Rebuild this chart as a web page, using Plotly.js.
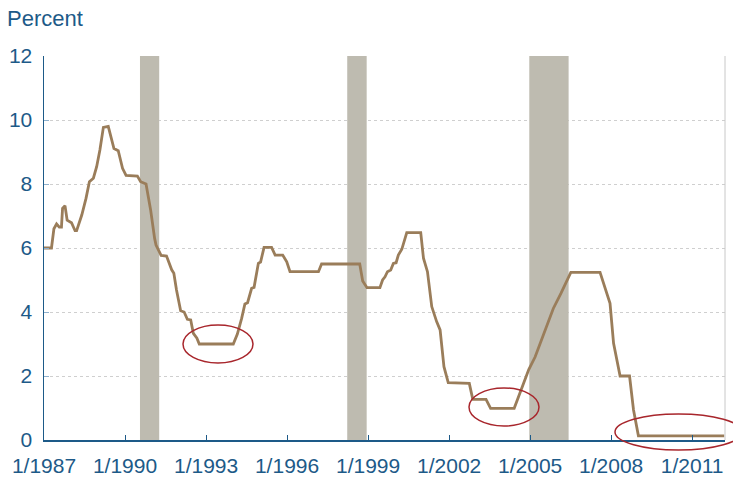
<!DOCTYPE html>
<html>
<head>
<meta charset="utf-8">
<script src="https://cdn.plot.ly/plotly-3.0.1.min.js"></script>
<style>html,body{margin:0;padding:0;background:#fff;}#chart{width:733px;height:478px;}</style>
</head>
<body>
<div id="chart"></div>
<script>
// Federal funds rate (percent), vertices
var rateDates = [
  "1987-01-01","1987-04-12","1987-05-15","1987-06-20","1987-07-27","1987-08-25","1987-09-09","1987-10-12","1987-11-10",
  "1988-01-08","1988-02-25","1988-03-17","1988-05-26","1988-07-22","1988-09-06","1988-10-30","1988-12-13",
  "1989-01-26","1989-03-14","1989-05-19","1989-08-04","1989-10-01","1989-11-28",
  "1990-01-15","1990-06-17","1990-07-31","1990-10-12","1990-12-13",
  "1991-02-05","1991-02-24","1991-05-04","1991-07-16","1991-09-24","1991-10-23","1991-11-28",
  "1992-01-23","1992-03-10","1992-04-23","1992-06-07","1992-07-13","1992-08-30","1992-10-01",
  "1994-01-04","1994-02-28","1994-04-27","1994-06-10","1994-07-16","1994-09-09","1994-10-12","1994-12-09",
  "1995-01-08","1995-02-24","1995-06-06","1995-07-24","1995-11-03","1995-12-28",
  "1996-02-10","1997-03-01","1997-04-12","1998-09-10","1998-10-20","1998-12-17",
  "1999-06-10","1999-07-16","1999-08-18","1999-09-20","1999-11-03","1999-12-09",
  "2000-01-15","2000-02-14","2000-04-01","2000-06-07","2000-12-13",
  "2001-01-19","2001-03-14","2001-05-11","2001-07-16","2001-09-01","2001-10-23","2001-12-20",
  "2002-10-01","2002-11-17","2003-05-15","2003-07-16","2004-05-30","2004-09-09","2004-12-13",
  "2005-03-10","2005-05-15","2005-08-14","2005-11-10","2006-02-21","2006-05-11","2006-07-05",
  "2007-08-04","2007-10-23","2007-12-17","2008-02-03","2008-05-01","2008-09-06","2008-10-30",
  "2009-01-04","2012-03-10"
];
var rateValues = [
  6.0,6.0,6.6,6.75,6.65,6.65,7.24,7.32,6.87,
  6.79,6.54,6.54,7.03,7.55,8.07,8.18,8.54,
  9.06,9.77,9.8,9.11,9.04,8.49,
  8.27,8.25,8.07,8.0,7.19,
  6.3,6.09,5.77,5.75,5.32,5.21,4.69,
  4.04,4.0,3.77,3.75,3.33,3.18,3.0,
  3.0,3.31,3.8,4.25,4.29,4.74,4.77,5.52,
  5.56,6.02,6.02,5.78,5.78,5.57,
  5.26,5.26,5.5,5.5,4.97,4.76,
  4.76,5.0,5.1,5.26,5.31,5.52,
  5.54,5.78,5.96,6.48,6.48,
  5.68,5.26,4.17,3.7,3.44,2.29,1.79,
  1.77,1.27,1.27,0.99,0.99,1.65,2.2,
  2.6,2.99,3.54,4.11,4.58,5.0,5.24,
  5.24,4.64,4.27,3.02,2.0,2.0,0.94,
  0.13,0.13
];

// Shaded periods as drawn in the reference
var shadeStart = ["1990-07-22","1998-03-25","2004-12-20"];
var shadeEnd   = ["1991-04-08","1998-12-13","2006-06-05"];
var shadeTop = 12;

// Axis ticks
var tickDates  = ["1987-01-01","1990-01-01","1993-01-01","1996-01-01","1999-01-01","2002-01-01","2005-01-01","2008-01-01","2011-01-01"];
var tickLabels = ["1/1987","1/1990","1/1993","1/1996","1/1999","1/2002","1/2005","1/2008","1/2011"];
var yTicks = [0,2,4,6,8,10,12];

var BLUE = "#1d5a88";
var FONT = "Liberation Sans, Arial, sans-serif";

var shapes = [];
for (var i = 0; i < shadeStart.length; i++) {
  shapes.push({type:"rect", xref:"x", yref:"y", x0:shadeStart[i], x1:shadeEnd[i], y0:0, y1:shadeTop,
    fillcolor:"#bebbb0", line:{width:0}, layer:"between"});
}
// right frame line
shapes.push({type:"line", xref:"paper", yref:"paper", x0:1, x1:1, y0:0, y1:1, line:{color:"#c8c8c8", width:1}});
// red ellipses highlighting low-rate periods (pixel-positioned decorations)
var W = 681, H = 384, L = 44, T = 56;
function px2paper(x, y){ return [(x - L) / W, (T + H - y) / H]; }
var ellipses = [[183,325,253,363],[469,388,539,426],[615,414,742,450]];
ellipses.forEach(function(e){
  var a = px2paper(e[0], e[3]), b = px2paper(e[2], e[1]);
  shapes.push({type:"circle", xref:"paper", yref:"paper", x0:a[0], y0:a[1], x1:b[0], y1:b[1],
    line:{color:"#a8262c", width:1.5}, fillcolor:"rgba(0,0,0,0)", layer:"above"});
});

var trace = {
  x: rateDates, y: rateValues, type:"scatter", mode:"lines",
  line:{color:"#9a7d5a", width:2.8}, hoverinfo:"skip"
};

var layout = {
  width:733, height:478,
  margin:{l:44, r:8, t:56, b:38},
  paper_bgcolor:"#ffffff", plot_bgcolor:"#ffffff",
  showlegend:false,
  font:{family:FONT, size:21, color:BLUE},
  xaxis:{
    type:"date", range:["1987-01-01","2012-03-20"],
    tickmode:"array", tickvals:tickDates, ticktext:tickLabels,
    ticks:"inside", ticklen:5, tickcolor:BLUE, tickwidth:1,
    showline:true, linecolor:BLUE, linewidth:1.5,
    showgrid:false, zeroline:false,
    tickfont:{family:FONT, size:21, color:BLUE},
    ticklabelstandoff:6
  },
  yaxis:{
    range:[0,12], tickmode:"array", tickvals:yTicks,
    ticks:"inside", ticklen:5, tickcolor:"#8fb0cc", tickwidth:1,
    showline:true, linecolor:BLUE, linewidth:1.5,
    showgrid:true, gridcolor:"#cfcfcf", griddash:"dot", gridwidth:1,
    zeroline:false,
    tickfont:{family:FONT, size:21, color:BLUE},
    ticklabelstandoff:6
  },
  shapes: shapes,
  annotations:[{
    text:"Percent", xref:"paper", yref:"paper", x:(5 - L)/W, y:(T + H - 33)/H,
    xanchor:"left", yanchor:"bottom", showarrow:false,
    font:{family:FONT, size:22, color:BLUE}
  }]
};

Plotly.newPlot("chart", [trace], layout, {staticPlot:true, displayModeBar:false});
</script>
</body>
</html>
